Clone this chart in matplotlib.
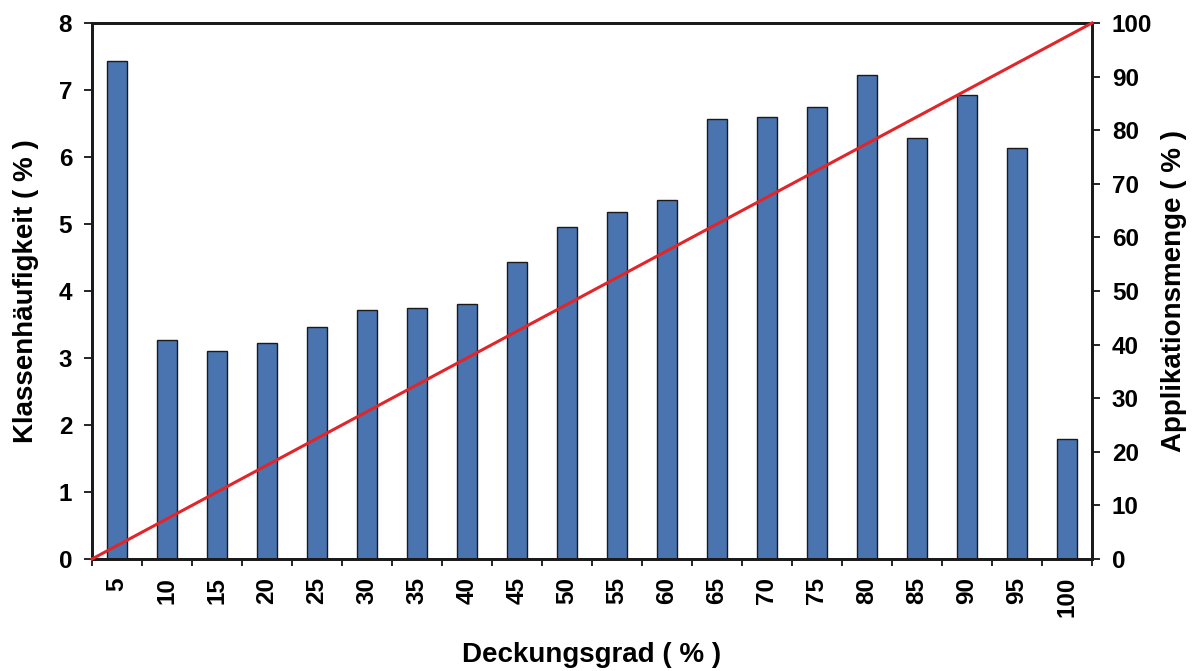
import matplotlib
matplotlib.use("Agg")
import matplotlib.pyplot as plt

categories = ["5", "10", "15", "20", "25", "30", "35", "40", "45", "50",
              "55", "60", "65", "70", "75", "80", "85", "90", "95", "100"]
klassenhaeufigkeit = [7.43, 3.27, 3.10, 3.22, 3.46, 3.72, 3.75, 3.81, 4.43, 4.96,
                      5.18, 5.36, 6.57, 6.60, 6.75, 7.22, 6.28, 6.93, 6.13, 1.79]
deckung_line = [0, 100]
applikation_line = [0, 100]

plt.rcParams['font.family'] = ['Liberation Sans', 'DejaVu Sans']
plt.rcParams['font.weight'] = 'bold'

TICK_FS = 17.5
LABEL_FS = 20
TICK_LEN = 5.8
TICK_PAD = 8.5

fig = plt.figure(figsize=(11.92, 6.71), dpi=100)
rect = [92/1192, 1 - 559/671, 1000/1192, 536/671]
ax = fig.add_axes(rect)

pos = list(range(len(categories)))
ax.bar(pos, klassenhaeufigkeit, width=0.4, color='#4a74b0', edgecolor='#1a1a1a',
       linewidth=1.0, zorder=2)
ax.set_xlim(-0.5, len(categories) - 0.5)
ax.set_ylim(0, 8)
ax.set_yticks(range(0, 9))
ax.tick_params(axis='y', direction='out', length=TICK_LEN, width=1.2,
               labelsize=TICK_FS, pad=TICK_PAD)

# boundaries as major ticks (no labels), centers as minor ticks with labels
ax.set_xticks([p - 0.5 for p in pos] + [len(categories) - 0.5])
ax.set_xticklabels([])
ax.set_xticks(pos, minor=True)
ax.set_xticklabels(categories, minor=True, rotation=90, fontsize=TICK_FS, fontweight='bold')
ax.tick_params(axis='x', which='major', direction='out', length=5, width=1.2)
ax.tick_params(axis='x', which='minor', length=0, pad=13)

for s in ax.spines.values():
    s.set_linewidth(2)
    s.set_color('#1a1a1a')

ax.set_ylabel('Klassenhäufigkeit ( % )', fontsize=LABEL_FS, fontweight='bold', labelpad=14)
ax.set_xlabel('Deckungsgrad ( % )', fontsize=LABEL_FS, fontweight='bold', labelpad=18)

ax2 = ax.twinx()
ax2.set_ylim(0, 100)
ax2.set_yticks(range(0, 101, 10))
ax2.tick_params(axis='y', direction='out', length=TICK_LEN, width=1.2,
                labelsize=TICK_FS, pad=TICK_PAD)
ax2.set_ylabel('Applikationsmenge ( % )', fontsize=LABEL_FS, fontweight='bold', labelpad=6)
for s in ax2.spines.values():
    s.set_linewidth(2)
    s.set_color('#1a1a1a')

ax3 = fig.add_axes(rect, label='line_axes', frameon=False)
ax3.set_xlim(0, 100)
ax3.set_ylim(0, 100)
ax3.plot(deckung_line, applikation_line, color='#e0262a', linewidth=2.2, zorder=3,
         clip_on=False)
ax3.set_xticks([])
ax3.set_yticks([])
ax3.patch.set_visible(False)

fig.savefig('out.png', dpi=100)
